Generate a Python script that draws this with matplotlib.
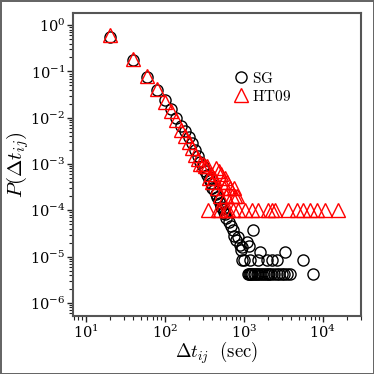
import numpy as np
import matplotlib
matplotlib.use('Agg')
import matplotlib.pyplot as plt
from matplotlib.ticker import LogLocator, NullFormatter

plt.rcParams['mathtext.fontset'] = 'cm'
plt.rcParams['font.family'] = 'serif'

# SG: inter-event times (sec) and probabilities
sg_dt = [20, 40, 60, 80, 100, 120, 140, 160, 180, 200, 220, 240, 260, 280, 300,
         320, 340, 360, 380, 400, 420, 440, 460, 480, 500, 520, 540, 560, 580, 600,
         640, 680, 720, 760, 800, 840, 880, 920, 960, 1000,
         945, 1190, 1500, 1950, 2260, 2620, 5590,
         1290, 1590, 3300, 1080, 1150,
         1120, 1160, 1200, 1240, 1280, 1340, 1400, 1460, 1520, 1600, 1700, 1800,
         1900, 2000, 2100, 2200, 2400, 2600, 2800, 3000, 3200, 3500, 3800, 7450]
sg_p = [0.55, 0.175, 0.075, 0.039, 0.024, 0.0153, 0.0098, 0.0066, 0.0051, 0.0038,
        0.0028, 0.0020, 0.00148, 0.0011, 0.0009, 0.0007, 0.00058, 0.00047, 0.00039,
        0.0003, 0.00027, 0.00022, 0.00019, 0.000166, 0.000143, 0.000117, 0.000106,
        9.1e-5, 8.3e-5, 6.8e-5, 5.6e-5, 4.6e-5, 3.7e-5, 2.8e-5, 2.3e-5, 2.6e-5,
        1.8e-5, 1.4e-5, 1.6e-5, 8.4e-6,
        8.4e-6, 8.4e-6, 8.4e-6, 8.4e-6, 8.4e-6, 8.4e-6, 8.4e-6,
        3.7e-5, 1.26e-5, 1.26e-5, 2.1e-5, 1.7e-5,
        4.2e-6, 4.2e-6, 4.2e-6, 4.2e-6, 4.2e-6, 4.2e-6, 4.2e-6, 4.2e-6, 4.2e-6,
        4.2e-6, 4.2e-6, 4.2e-6, 4.2e-6, 4.2e-6, 4.2e-6, 4.2e-6, 4.2e-6, 4.2e-6,
        4.2e-6, 4.2e-6, 4.2e-6, 4.2e-6, 4.2e-6, 4.2e-6]

# HT09
ht_dt = [20, 40, 60, 80, 100, 120, 140, 160, 180, 200, 220, 240, 260, 280,
         300, 320, 340, 360, 380, 400, 420, 440, 460, 480, 500, 520, 540, 560,
         580, 600, 620, 660, 700, 740, 780, 820,
         350, 469, 497, 600, 627, 720, 839, 1030, 1262, 1503, 2012, 2260, 2466,
         3604, 4690, 5590, 6850, 8390, 10600, 15500]
ht_p = [0.62, 0.19, 0.08, 0.042, 0.022, 0.014, 0.009, 0.0055, 0.004, 0.003,
        0.0022, 0.0016, 0.0013, 0.001, 0.001, 0.0009, 0.0009, 0.0005, 0.0006,
        0.0004, 0.0005, 0.0008, 0.0003, 0.0007, 0.0002, 0.0006, 0.0004, 0.0003,
        0.0005, 0.0002, 0.0004, 0.0003, 0.0002, 0.0003, 0.0002, 0.0002,
        1e-4, 1e-4, 1e-4, 1e-4, 1e-4, 1e-4, 1e-4, 1e-4, 1e-4, 1e-4, 1e-4, 1e-4,
        1e-4, 1e-4, 1e-4, 1e-4, 1e-4, 1e-4, 1e-4, 1e-4]

fig = plt.figure(figsize=(3.74, 3.74), dpi=100, edgecolor='#666666', linewidth=2)
ax = fig.add_axes([0.195, 0.155, 0.77, 0.81])

ax.plot(sg_dt, sg_p, 'o', mfc='none', mec='black', ms=8, mew=1.0, label=r'$\mathrm{SG}$')
ax.plot(ht_dt, ht_p, '^', mfc='none', mec='red', ms=10, mew=1.0, label=r'$\mathrm{HT09}$')

ax.set_xscale('log')
ax.set_yscale('log')
ax.set_xlim(6.85, 30300)
ax.set_ylim(5.2e-7, 1.82)

ax.xaxis.set_major_locator(LogLocator(base=10, numticks=10))
ax.xaxis.set_minor_locator(LogLocator(base=10, subs=np.arange(2, 10), numticks=20))
ax.xaxis.set_minor_formatter(NullFormatter())
ax.yaxis.set_major_locator(LogLocator(base=10, numticks=10))
ax.yaxis.set_minor_locator(LogLocator(base=10, subs=np.arange(2, 10), numticks=20))
ax.yaxis.set_minor_formatter(NullFormatter())

for s in ax.spines.values():
    s.set_color('#555555')
    s.set_linewidth(1.5)
ax.tick_params(which='both', direction='out', top=False, right=False, labelsize=10.5,
               color='#222222', pad=1.5)
ax.tick_params(which='major', length=4, width=1)
ax.tick_params(which='minor', length=3, width=0.8)

ax.set_xlabel(r'$\Delta t_{ij}\ \ (\mathrm{sec})$', fontsize=13.5, labelpad=-1)
ax.set_ylabel(r'$P(\Delta t_{ij})$', fontsize=15)
ax.yaxis.set_label_coords(-0.145, 0.5)

ax.legend(loc='upper left', bbox_to_anchor=(0.53, 0.83), frameon=False, fontsize=11,
          handletextpad=0.1, borderaxespad=0, labelspacing=0.2, handlelength=1.2)

fig.savefig('out.png', dpi=100, edgecolor=fig.get_edgecolor())
